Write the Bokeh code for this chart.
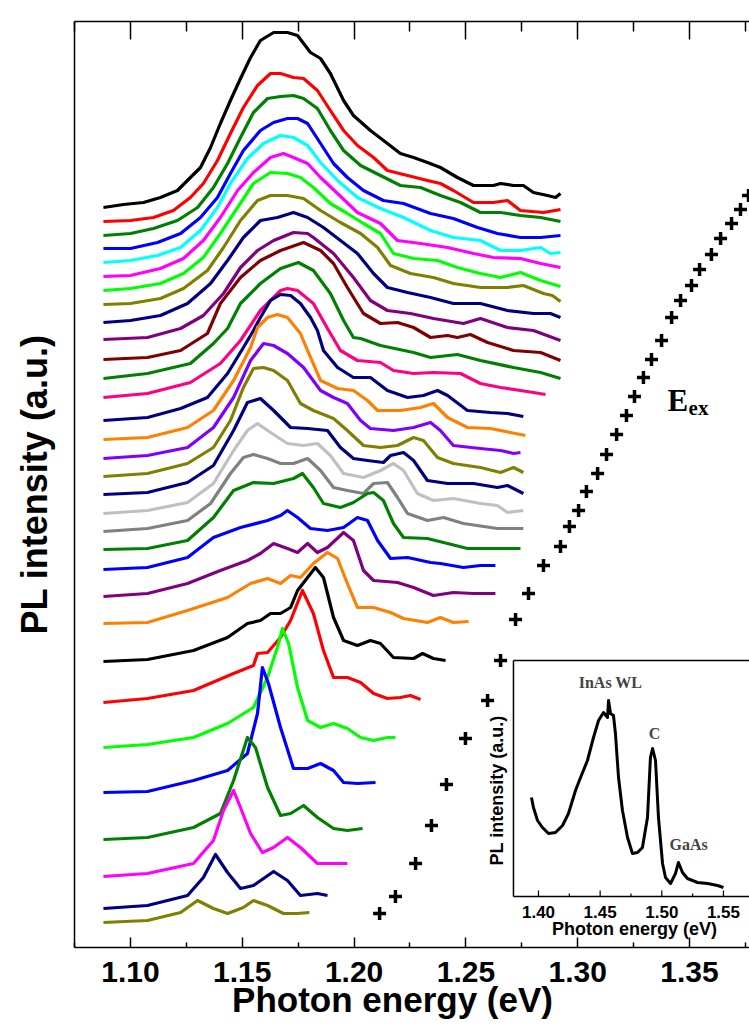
import math
from bokeh.plotting import figure
from bokeh.models import Range1d, LinearAxis, FixedTicker, Label, NumeralTickFormatter, CustomJSTickFormatter
from bokeh.core.properties import value
from bokeh.embed import file_html
from bokeh.resources import INLINE

# ---------------- data: stacked PL spectra (energy in eV, intensity incl. offset, a.u.) -------------
E01 = [1.0879,1.0969,1.1058,1.1134,1.1210,1.1268,1.1313,1.1358,1.1402,1.1447,1.1492,1.1537,1.1581,1.1640,1.1702,1.1747,1.1805,1.1850,1.1894,1.1953,1.1997,1.2073,1.2149,1.2207,1.2266,1.2328,1.2386,1.2462,1.2534,1.2623,1.2655,1.2713,1.2757,1.2802,1.2865,1.2901,1.2923]
I01 = [743,746,748,753,760,773,783,803,827,850,872,893,910,918,918,915,898,892,877,850,835,820,807,797,793,788,783,773,765,765,767,765,765,758,755,753,757]
E02 = [1.0879,1.1000,1.1103,1.1192,1.1268,1.1326,1.1389,1.1447,1.1505,1.1568,1.1626,1.1671,1.1729,1.1774,1.1836,1.1894,1.1953,1.2015,1.2087,1.2149,1.2239,1.2328,1.2386,1.2444,1.2534,1.2623,1.2686,1.2744,1.2847,1.2923]
I02 = [729,730,733,740,753,767,790,817,843,865,877,877,873,872,860,840,820,805,793,780,775,770,767,760,748,748,750,740,738,741]
E03 = [1.0879,1.1000,1.1103,1.1210,1.1300,1.1371,1.1434,1.1492,1.1550,1.1613,1.1671,1.1729,1.1774,1.1836,1.1894,1.1953,1.2029,1.2118,1.2207,1.2297,1.2386,1.2476,1.2565,1.2655,1.2744,1.2834,1.2923]
I03 = [715,717,722,730,743,763,787,813,838,852,854,855,852,842,820,800,785,775,765,763,755,748,738,738,735,733,729]
E04 = [1.0879,1.1000,1.1121,1.1224,1.1313,1.1389,1.1447,1.1505,1.1581,1.1640,1.1702,1.1747,1.1792,1.1850,1.1908,1.1970,1.2042,1.2131,1.2221,1.2342,1.2444,1.2552,1.2641,1.2744,1.2834,1.2923]
I04 = [702,702,708,717,733,753,777,800,820,828,832,832,827,807,787,773,760,750,747,737,732,723,717,713,713,715]
E05 = [1.0879,1.1000,1.1121,1.1224,1.1313,1.1389,1.1447,1.1523,1.1595,1.1671,1.1729,1.1792,1.1850,1.1926,1.2015,1.2118,1.2221,1.2342,1.2444,1.2565,1.2655,1.2744,1.2834,1.2878,1.2923]
I05 = [688,690,695,703,720,743,767,792,807,815,813,805,788,770,753,742,733,720,713,710,700,700,703,697,698]
E06 = [1.0879,1.1000,1.1134,1.1237,1.1326,1.1402,1.1479,1.1550,1.1626,1.1684,1.1729,1.1792,1.1850,1.1926,1.2015,1.2118,1.2194,1.2297,1.2418,1.2534,1.2623,1.2744,1.2834,1.2923]
I06 = [674,675,682,692,710,733,760,778,793,797,793,787,773,757,738,727,710,707,703,697,693,692,687,683]
E07 = [1.0879,1.1000,1.1134,1.1237,1.1326,1.1402,1.1479,1.1550,1.1626,1.1702,1.1760,1.1818,1.1894,1.1970,1.2042,1.2118,1.2176,1.2266,1.2373,1.2462,1.2565,1.2655,1.2744,1.2834,1.2923]
I07 = [660,662,667,677,693,717,743,767,778,777,773,763,747,737,727,717,697,692,690,683,677,673,678,670,664]
E08 = [1.0879,1.1000,1.1134,1.1237,1.1344,1.1416,1.1492,1.1568,1.1626,1.1702,1.1774,1.1850,1.1939,1.2029,1.2105,1.2163,1.2252,1.2355,1.2444,1.2565,1.2686,1.2757,1.2847,1.2887,1.2923]
I08 = [646,647,652,662,680,703,730,750,755,755,752,740,728,717,703,685,677,673,667,663,663,665,657,655,649]
E09 = [1.0879,1.1000,1.1134,1.1255,1.1358,1.1434,1.1505,1.1581,1.1657,1.1729,1.1792,1.1863,1.1939,1.2015,1.2087,1.2149,1.2239,1.2342,1.2444,1.2565,1.2686,1.2802,1.2878,1.2923]
I09 = [628,630,635,647,667,690,713,730,733,738,733,723,710,697,677,663,658,653,647,647,640,637,637,633]
E10 = [1.0879,1.1076,1.1224,1.1326,1.1416,1.1492,1.1568,1.1640,1.1729,1.1792,1.1818,1.1908,1.1997,1.2073,1.2149,1.2252,1.2355,1.2489,1.2565,1.2686,1.2802,1.2923]
I10 = [611,613,622,635,657,683,700,710,718,717,713,697,673,650,640,637,632,627,632,623,620,610]
E11 = [1.0879,1.1076,1.1224,1.1344,1.1402,1.1492,1.1581,1.1671,1.1774,1.1850,1.1908,1.1970,1.2042,1.2118,1.2194,1.2266,1.2342,1.2418,1.2462,1.2520,1.2597,1.2713,1.2834,1.2923]
I11 = [591,593,600,617,647,673,690,700,708,700,687,663,637,627,628,623,613,615,613,616,608,600,598,590]
E12 = [1.0879,1.1076,1.1268,1.1371,1.1434,1.1492,1.1581,1.1671,1.1751,1.1818,1.1894,1.1953,1.1997,1.2029,1.2118,1.2266,1.2342,1.2462,1.2565,1.2713,1.2834,1.2923]
I12 = [572,577,587,607,622,647,667,682,688,680,657,630,613,612,605,598,593,596,590,583,578,572]
E13 = [1.0879,1.1076,1.1268,1.1402,1.1492,1.1581,1.1671,1.1702,1.1747,1.1818,1.1881,1.1939,1.2015,1.2118,1.2176,1.2266,1.2355,1.2476,1.2565,1.2655,1.2744,1.2802,1.2856]
I13 = [553,557,568,587,610,640,660,662,660,647,622,600,590,588,580,577,578,577,567,563,560,558,556]
E14 = [1.0879,1.1076,1.1224,1.1344,1.1434,1.1505,1.1550,1.1581,1.1626,1.1671,1.1716,1.1760,1.1805,1.1836,1.1863,1.1926,1.1997,1.2073,1.2149,1.2239,1.2310,1.2373,1.2418,1.2507,1.2610,1.2686,1.2757]
I14 = [530,533,542,553,577,603,620,633,650,656,655,647,633,620,600,583,573,573,560,553,555,560,555,540,538,537,534]
E15 = [1.0879,1.1076,1.1255,1.1371,1.1461,1.1537,1.1568,1.1613,1.1657,1.1702,1.1760,1.1792,1.1850,1.1926,1.1997,1.2060,1.2105,1.2207,1.2297,1.2355,1.2418,1.2507,1.2610,1.2699,1.2766]
I15 = [511,513,523,540,570,603,623,633,636,633,617,600,570,562,560,550,540,540,543,547,533,523,522,518,515]
E16 = [1.0879,1.1076,1.1255,1.1371,1.1461,1.1537,1.1595,1.1640,1.1702,1.1774,1.1850,1.1908,1.1970,1.2029,1.2073,1.2176,1.2266,1.2342,1.2386,1.2444,1.2565,1.2655,1.2713,1.2744]
I16 = [492,495,503,523,553,590,607,605,597,583,560,553,547,530,522,520,523,528,520,505,502,500,497,498]
E17 = [1.0879,1.1076,1.1255,1.1371,1.1447,1.1505,1.1550,1.1595,1.1640,1.1702,1.1760,1.1818,1.1908,1.1970,1.2042,1.2118,1.2194,1.2266,1.2310,1.2373,1.2444,1.2565,1.2655,1.2713,1.2757]
I17 = [474,477,487,503,530,563,582,583,580,570,547,540,532,520,505,503,505,513,510,493,487,483,478,483,478]
E18 = [1.0879,1.1076,1.1255,1.1371,1.1461,1.1523,1.1581,1.1640,1.1716,1.1792,1.1881,1.1939,1.1997,1.2060,1.2131,1.2163,1.2221,1.2266,1.2328,1.2418,1.2534,1.2641,1.2686,1.2757]
I18 = [456,458,468,485,520,548,552,540,523,522,520,503,492,490,488,495,498,490,470,467,467,463,465,457]
E19 = [1.0879,1.1076,1.1255,1.1371,1.1461,1.1523,1.1568,1.1626,1.1702,1.1774,1.1836,1.1894,1.1953,1.2042,1.2118,1.2176,1.2221,1.2283,1.2355,1.2444,1.2565,1.2641,1.2686,1.2757]
I19 = [437,440,448,467,500,520,527,518,507,505,507,495,477,473,480,487,480,457,450,452,447,445,438,440]
E20 = [1.0879,1.1076,1.1255,1.1358,1.1447,1.1505,1.1550,1.1613,1.1671,1.1729,1.1792,1.1850,1.1908,1.1970,1.2042,1.2087,1.2149,1.2194,1.2239,1.2328,1.2400,1.2489,1.2641,1.2757]
I20 = [419,422,430,447,477,493,496,492,487,487,492,480,463,460,457,467,468,453,437,430,433,427,422,422]
E21 = [1.0879,1.1076,1.1255,1.1371,1.1461,1.1550,1.1640,1.1729,1.1769,1.1818,1.1863,1.1939,1.1997,1.2060,1.2087,1.2131,1.2176,1.2221,1.2328,1.2418,1.2507,1.2641,1.2744]
I21 = [401,402,410,433,460,468,467,472,477,463,447,443,448,457,458,450,427,413,412,407,402,402,402]
E22 = [1.0879,1.1076,1.1255,1.1371,1.1492,1.1613,1.1671,1.1702,1.1747,1.1805,1.1881,1.1953,1.2015,1.2060,1.2105,1.2163,1.2239,1.2342,1.2386,1.2489,1.2565,1.2632]
I22 = [381,383,393,413,423,430,435,440,433,422,420,423,433,430,410,392,393,388,387,383,385,385]
E23 = [1.0879,1.1076,1.1255,1.1402,1.1523,1.1581,1.1640,1.1702,1.1747,1.1792,1.1836,1.1881,1.1953,1.1997,1.2042,1.2087,1.2194,1.2266,1.2355,1.2444,1.2534,1.2632]
I23 = [354,357,367,380,390,397,407,402,398,407,398,403,418,410,380,370,368,363,355,358,357,357]
E24 = [1.0879,1.1076,1.1255,1.1434,1.1537,1.1613,1.1671,1.1716,1.1760,1.1818,1.1881,1.1926,1.1970,1.2015,1.2087,1.2163,1.2221,1.2328,1.2386,1.2444,1.2512]
I24 = [327,328,340,353,367,372,367,375,373,387,398,392,367,343,343,338,332,328,333,328,329]
E25 = [1.0879,1.1076,1.1282,1.1434,1.1523,1.1581,1.1626,1.1671,1.1716,1.1747,1.1792,1.1827,1.1863,1.1908,1.1953,1.2015,1.2073,1.2118,1.2176,1.2266,1.2306,1.2355,1.2409]
I25 = [289,291,300,313,327,330,337,337,343,360,373,383,373,333,310,305,310,307,293,292,297,292,290]
E26 = [1.0879,1.1076,1.1282,1.1461,1.1550,1.1568,1.1613,1.1671,1.1716,1.1769,1.1818,1.1863,1.1908,1.1970,1.2029,1.2087,1.2149,1.2207,1.2252,1.2297]
I26 = [248,252,260,277,285,297,298,313,330,360,337,300,273,273,268,257,252,253,255,251]
E27 = [1.0879,1.1076,1.1282,1.1434,1.1550,1.1613,1.1657,1.1680,1.1707,1.1747,1.1792,1.1850,1.1908,1.1970,1.2029,1.2087,1.2149,1.2185]
I27 = [203,206,213,227,243,273,303,322,307,263,230,223,227,222,213,210,213,213]
E28 = [1.0879,1.1076,1.1282,1.1434,1.1523,1.1568,1.1590,1.1617,1.1671,1.1729,1.1792,1.1850,1.1908,1.1953,1.2015,1.2096]
I28 = [158,159,170,180,197,237,283,267,223,182,182,187,180,168,167,168]
E29 = [1.0879,1.1076,1.1282,1.1402,1.1461,1.1523,1.1559,1.1613,1.1671,1.1716,1.1774,1.1836,1.1908,1.1970,1.2038]
I29 = [111,113,123,137,170,213,203,163,135,137,145,133,122,120,122]
E30 = [1.0879,1.1076,1.1282,1.1371,1.1416,1.1461,1.1492,1.1537,1.1590,1.1640,1.1702,1.1760,1.1836,1.1908,1.1970]
I30 = [74,77,87,110,140,160,143,117,98,103,113,103,87,87,87]
E31 = [1.0879,1.1076,1.1255,1.1326,1.1380,1.1434,1.1492,1.1550,1.1640,1.1702,1.1760,1.1836,1.1881]
I31 = [42,45,55,73,96,78,62,65,79,70,55,57,55]
E32 = [1.0879,1.1076,1.1224,1.1300,1.1371,1.1434,1.1505,1.1550,1.1613,1.1684,1.1747,1.1800]
I32 = [28,30,38,50,42,37,43,50,45,37,37,38]

spectra_colors = ["#000000", "#FF0000", "#008000", "#0000FF", "#00FFFF", "#FF00FF", "#00FF00", "#808000",
                  "#000080", "#800080", "#800000", "#008000", "#FF0080", "#000080", "#FF8000", "#8000FF",
                  "#808000", "#000080", "#C0C0C0", "#808080", "#008000", "#0000FF", "#800080", "#FF8000",
                  "#000000", "#FF0000", "#00FF00", "#0000FF", "#008000", "#FF00FF", "#000080", "#808000"]

# excitation energies (crosses), bottom to top, and their level on the intensity scale
eex_energy = [1.2114, 1.2185, 1.2275, 1.2346, 1.2413, 1.2498, 1.2597, 1.2655, 1.2722, 1.2780, 1.2847,
              1.2923, 1.2963, 1.3004, 1.3039, 1.3089, 1.3129, 1.3174, 1.3218, 1.3254, 1.3294, 1.3330,
              1.3375, 1.3420, 1.3460, 1.3509, 1.3545, 1.3598, 1.3639, 1.3688, 1.3728, 1.3764]
eex_level = [37, 54, 87, 125, 166, 212, 250, 290, 331, 357, 385, 404, 424, 440, 459, 477, 496, 516,
             535, 554, 573, 591, 610, 633, 650, 665, 681, 696, 712, 727, 741, 755]

x_major = [1.10, 1.15, 1.20, 1.25, 1.30, 1.35]
x_minor = [1.075, 1.125, 1.175, 1.225, 1.275, 1.325, 1.375]

# inset spectrum
ins_energy = [1.3943, 1.3959, 1.3992, 1.4032, 1.4081, 1.4138, 1.4195, 1.4243, 1.4300, 1.4341, 1.4397,
              1.4446, 1.4487, 1.4527, 1.4560, 1.4568, 1.4584, 1.4608, 1.4624, 1.4649, 1.4681, 1.4722,
              1.4762, 1.4803, 1.4843, 1.4884, 1.4908, 1.4925, 1.4949, 1.4973, 1.5006, 1.5030, 1.5071,
              1.5111, 1.5135, 1.5168, 1.5208, 1.5290, 1.5371, 1.5452, 1.5500]
ins_intensity = [99, 89, 76, 69, 63, 64, 71, 83, 106, 119, 136, 159, 176, 184, 179, 196, 183, 181, 163,
                 119, 86, 59, 43, 44, 49, 79, 139, 148, 136, 79, 33, 19, 13, 23, 34, 24, 18, 14, 13, 11, 9]
ins_major = [1.40, 1.45, 1.50, 1.55]
ins_major_labels = ["1.40", "1.45", "1.50", "1.55"]
ins_minor = [1.425, 1.475, 1.525]
ins_xlim = [1.3797, 1.60]
ins_ylim = [0, 236]

# ---------------- figure ----------------
W, H = 749, 1030
p = figure(width=W, height=H, output_backend="svg", toolbar_location=None,
           x_range=Range1d(1.07496, 1.37683), y_range=Range1d(3, 929),
           min_border_left=74, min_border_right=0, min_border_top=21, min_border_bottom=83)
p.outline_line_color = None
p.xgrid.visible = False
p.ygrid.visible = False
p.background_fill_color = "white"
p.border_fill_color = "white"

blank = CustomJSTickFormatter(code="return '';")

xa = p.xaxis[0]
xa.ticker = FixedTicker(ticks=x_major, minor_ticks=x_minor)
xa.formatter = NumeralTickFormatter(format="0.00")
xa.major_tick_in = 10
xa.major_tick_out = 0
xa.minor_tick_in = 5
xa.minor_tick_out = 0
xa.axis_line_width = 1.5
xa.major_tick_line_width = 1.5
xa.minor_tick_line_width = 1.5
xa.major_label_standoff = 14
xa.major_label_text_font = "Liberation Sans"
xa.major_label_text_font_style = "bold"
xa.major_label_text_font_size = "30px"
xa.major_label_text_color = "black"
xa.axis_label = "Photon energy (eV)\u00a0\u00a0\u00a0\u00a0"
xa.axis_label_text_font = "Liberation Sans"
xa.axis_label_text_font_style = "bold"
xa.axis_label_text_font_size = "35px"
xa.axis_label_text_color = "black"
xa.axis_label_standoff = -5

ya = p.yaxis[0]
ya.ticker = FixedTicker(ticks=[])
ya.formatter = blank
ya.major_tick_in = 0
ya.major_tick_out = 0
ya.minor_tick_in = 0
ya.minor_tick_out = 0
ya.major_label_standoff = 0
ya.axis_line_width = 1.5
ya.axis_label = "PL intensity (a.u.)"
ya.axis_label_text_font = "Liberation Sans"
ya.axis_label_text_font_style = "bold"
ya.axis_label_text_font_size = "36px"
ya.axis_label_text_color = "black"
ya.axis_label_standoff = 20

top = LinearAxis(ticker=FixedTicker(ticks=x_major, minor_ticks=x_minor), formatter=blank)
top.major_tick_in = 18
top.major_tick_out = 0
top.minor_tick_in = 10
top.minor_tick_out = 0
top.axis_line_width = 1.5
top.major_tick_line_width = 1.5
top.minor_tick_line_width = 1.5
top.major_label_standoff = 0
p.add_layout(top, "above")

# spectra
spectra_E = [E01, E02, E03, E04, E05, E06, E07, E08, E09, E10, E11, E12, E13, E14, E15, E16,
             E17, E18, E19, E20, E21, E22, E23, E24, E25, E26, E27, E28, E29, E30, E31, E32]
spectra_I = [I01, I02, I03, I04, I05, I06, I07, I08, I09, I10, I11, I12, I13, I14, I15, I16,
             I17, I18, I19, I20, I21, I22, I23, I24, I25, I26, I27, I28, I29, I30, I31, I32]
for e, i, c in zip(spectra_E, spectra_I, spectra_colors):
    p.line(e, i, line_color=c, line_width=3.2, line_join="round")

# excitation energy markers
p.scatter(eex_energy, eex_level, marker="cross", size=13, line_width=3.5, line_color="black")

p.add_layout(Label(x=1.3402, y=550, text="E", text_font="Liberation Serif", text_font_style="bold",
                   text_font_size="31px", text_align="left", text_baseline="alphabetic", text_color="black"))
p.add_layout(Label(x=1.3496, y=543, text="ex", text_font="Liberation Serif", text_font_style="bold",
                   text_font_size="21px", text_align="left", text_baseline="alphabetic", text_color="black"))

# ---------------- inset (drawn on extra ranges) ----------------
p.extra_x_ranges = {"ins_x": Range1d(1.02368, 1.57113)}
p.extra_y_ranges = {"ins_y": Range1d(-51, 875)}
kw = dict(x_range_name="ins_x", y_range_name="ins_y")

p.line([ins_xlim[0], ins_xlim[0]], [ins_ylim[0], ins_ylim[1]], line_color="black", line_width=1.5, **kw)
p.line([ins_xlim[0], ins_xlim[1]], [ins_ylim[1], ins_ylim[1]], line_color="black", line_width=1.5, **kw)
p.line([ins_xlim[0], ins_xlim[1]], [ins_ylim[0], ins_ylim[0]], line_color="black", line_width=1.5, **kw)
p.segment(x0=ins_major, y0=[0] * len(ins_major), x1=ins_major, y1=[6] * len(ins_major),
          line_color="black", line_width=1.2, **kw)
p.segment(x0=ins_minor, y0=[0] * len(ins_minor), x1=ins_minor, y1=[3] * len(ins_minor),
          line_color="black", line_width=1.2, **kw)
p.line(ins_energy, ins_intensity, line_color="black", line_width=3, line_join="round", **kw)
p.text(x=ins_major, y=[-15] * len(ins_major), text=ins_major_labels, text_align="center",
       text_baseline="middle", text_font=value("Liberation Sans"), text_font_style="bold",
       text_font_size="17px", text_color="black", **kw)

p.add_layout(Label(x=1.4779, y=-32, text="Photon energy (eV)", text_font="Liberation Sans",
                   text_font_style="bold", text_font_size="18px", text_align="center",
                   text_baseline="middle", text_color="black", **kw))
p.add_layout(Label(x=1.3667, y=106, text="PL intensity (a.u.)", text_font="Liberation Sans",
                   text_font_style="bold", text_font_size="18px", text_align="center",
                   text_baseline="middle", angle=math.pi / 2, text_color="black", **kw))
p.add_layout(Label(x=1.4584, y=214, text="InAs WL", text_font="Liberation Serif", text_font_style="bold",
                   text_font_size="16px", text_align="center", text_baseline="middle", **kw))
p.add_layout(Label(x=1.4941, y=163, text="C", text_font="Liberation Serif", text_font_style="bold",
                   text_font_size="16px", text_align="center", text_baseline="middle", **kw))
p.add_layout(Label(x=1.5217, y=52, text="GaAs", text_font="Liberation Serif", text_font_style="bold",
                   text_font_size="16px", text_align="center", text_baseline="middle", **kw))

open("out.html", "w").write(file_html(p, INLINE))
